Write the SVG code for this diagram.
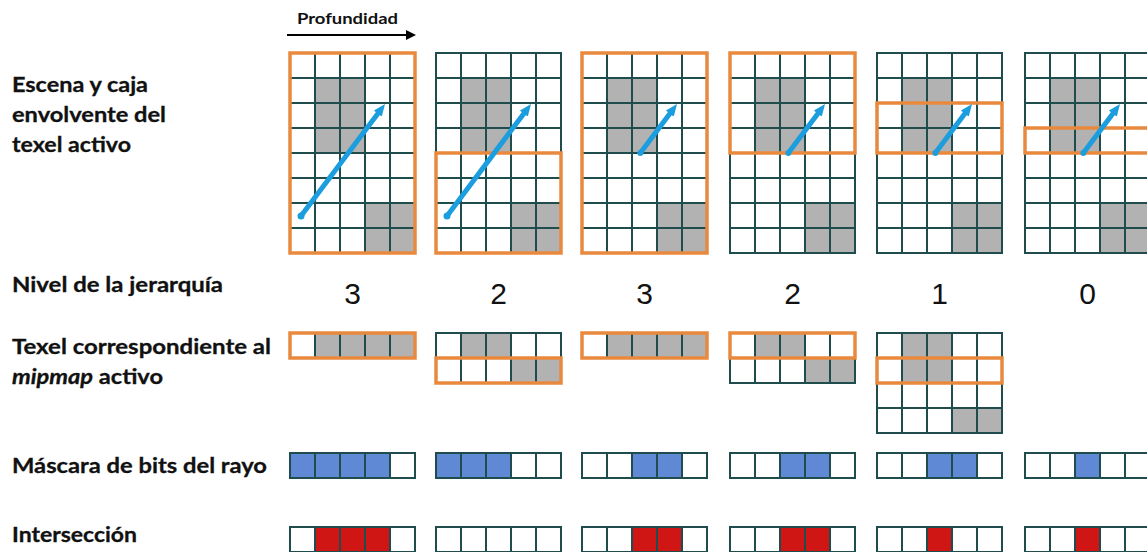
<svg xmlns="http://www.w3.org/2000/svg" xmlns:xlink="http://www.w3.org/1999/xlink" width="1147" height="552" viewBox="0 0 1147 552">
<style>
.lbl{font-family:Lato,"Liberation Sans",sans-serif;font-weight:700;font-size:21px;fill:#111;stroke:#111;stroke-width:0.3}
.num{font-family:"Liberation Sans",Arial,sans-serif;font-size:30px;fill:#111;text-anchor:middle}
.grid{fill:none;stroke:#1F4C4C;stroke-width:2;stroke-linecap:square}
.g{fill:#B2B2B2}
.b{fill:#5F89D5}
.r{fill:#D01515}
.ob{fill:none;stroke:#E8893E;stroke-width:3.5}
.ray{stroke:#1C9DDD;stroke-width:5;fill:none}
.dot{fill:#1C9DDD}
</style>
<defs>
<marker id="rh" markerUnits="userSpaceOnUse" viewBox="0 0 12 10" markerWidth="12" markerHeight="10" refX="3" refY="5" orient="auto">
<path d="M0,0 L12,5 L0,10 z" fill="#1C9DDD"/>
</marker>
<marker id="ah" markerUnits="userSpaceOnUse" viewBox="0 0 10 10" markerWidth="10" markerHeight="10" refX="2" refY="5" orient="auto">
<path d="M0,0 L10,5 L0,10 z" fill="#000"/>
</marker>
<g id="scene">
<rect x="0" y="0" width="125" height="200" fill="#fff"/>
<rect class="g" x="25" y="25" width="50" height="75"/>
<rect class="g" x="75" y="150" width="50" height="50"/>
<path class="grid" d="M0,0V200M25,0V200M50,0V200M75,0V200M100,0V200M125,0V200M0,0H125M0,25H125M0,50H125M0,75H125M0,100H125M0,125H125M0,150H125M0,175H125M0,200H125"/>
</g>
<path id="strip" class="grid" d="M0,0H125V25H0ZM25,0V25M50,0V25M75,0V25M100,0V25"/>
</defs>

<g id="connectors">
<line x1="287" y1="35" x2="408" y2="35" stroke="#000" stroke-width="2.2" marker-end="url(#ah)"/>
</g>
<text id="profundidad" x="297" y="24" style="font-family:Lato,'Liberation Sans',sans-serif;font-weight:700;font-size:15px;fill:#111" textLength="101" lengthAdjust="spacingAndGlyphs">Profundidad</text>

<g id="labels">
<text class="lbl" x="12" y="92" textLength="136" lengthAdjust="spacingAndGlyphs">Escena y caja</text>
<text class="lbl" x="12" y="122" textLength="154" lengthAdjust="spacingAndGlyphs">envolvente del</text>
<text class="lbl" x="12" y="152" textLength="119" lengthAdjust="spacingAndGlyphs">texel activo</text>
<text class="lbl" x="12" y="292" textLength="211" lengthAdjust="spacingAndGlyphs">Nivel de la jerarquía</text>
<text class="lbl" x="12" y="354" textLength="259" lengthAdjust="spacingAndGlyphs">Texel correspondiente al</text>
<text class="lbl" x="12" y="384" textLength="151" lengthAdjust="spacingAndGlyphs"><tspan font-style="italic">mipmap</tspan> activo</text>
<text class="lbl" x="12" y="473" textLength="255" lengthAdjust="spacingAndGlyphs">Máscara de bits del rayo</text>
<text class="lbl" x="12" y="542" textLength="125" lengthAdjust="spacingAndGlyphs">Intersección</text>
</g>

<g id="scene1">
<use xlink:href="#scene" href="#scene" x="290" y="53"/>
<rect class="ob" x="290" y="53" width="125" height="200"/>
<line class="ray" x1="301" y1="216" x2="379.6" y2="111.2" marker-end="url(#rh)"/>
<circle class="dot" cx="301" cy="216" r="3.5"/>
</g>
<g id="scene2">
<use xlink:href="#scene" href="#scene" x="436" y="53"/>
<rect class="ob" x="436" y="153" width="125" height="100"/>
<line class="ray" x1="447" y1="216" x2="525.6" y2="111.2" marker-end="url(#rh)"/>
<circle class="dot" cx="447" cy="216" r="3.5"/>
</g>
<g id="scene3">
<use xlink:href="#scene" href="#scene" x="582" y="53"/>
<rect class="ob" x="582" y="53" width="125" height="200"/>
<line class="ray" x1="640.3" y1="153" x2="671.6" y2="111.2" marker-end="url(#rh)"/>
<circle class="dot" cx="640.3" cy="153" r="3"/>
</g>
<g id="scene4">
<use xlink:href="#scene" href="#scene" x="730" y="53"/>
<rect class="ob" x="730" y="53" width="125" height="100"/>
<line class="ray" x1="788.3" y1="153" x2="819.6" y2="111.2" marker-end="url(#rh)"/>
<circle class="dot" cx="788.3" cy="153" r="3"/>
</g>
<g id="scene5">
<use xlink:href="#scene" href="#scene" x="877" y="53"/>
<rect class="ob" x="877" y="103" width="125" height="50"/>
<line class="ray" x1="935.3" y1="153" x2="966.6" y2="111.2" marker-end="url(#rh)"/>
<circle class="dot" cx="935.3" cy="153" r="3"/>
</g>
<g id="scene6">
<use xlink:href="#scene" href="#scene" x="1025" y="53"/>
<rect class="ob" x="1025" y="128" width="125" height="25"/>
<line class="ray" x1="1083.3" y1="153" x2="1114.6" y2="111.2" marker-end="url(#rh)"/>
<circle class="dot" cx="1083.3" cy="153" r="3"/>
</g>

<g id="levels">
<text class="num" x="352.5" y="304">3</text>
<text class="num" x="498.5" y="304">2</text>
<text class="num" x="644.5" y="304">3</text>
<text class="num" x="792.5" y="304">2</text>
<text class="num" x="939.5" y="304">1</text>
<text class="num" x="1087.5" y="304">0</text>
</g>

<g id="mip1">
<rect class="g" x="315" y="333" width="100" height="25"/>
<use href="#strip" xlink:href="#strip" x="290" y="333"/>
<rect class="ob" x="290" y="333" width="125" height="25"/>
</g>
<g id="mip2">
<rect class="g" x="461" y="333" width="50" height="25"/>
<rect class="g" x="511" y="358" width="50" height="25"/>
<use href="#strip" xlink:href="#strip" x="436" y="333"/>
<use href="#strip" xlink:href="#strip" x="436" y="358"/>
<rect class="ob" x="436" y="358" width="125" height="25"/>
</g>
<g id="mip3">
<rect class="g" x="607" y="333" width="100" height="25"/>
<use href="#strip" xlink:href="#strip" x="582" y="333"/>
<rect class="ob" x="582" y="333" width="125" height="25"/>
</g>
<g id="mip4">
<rect class="g" x="755" y="333" width="50" height="25"/>
<rect class="g" x="805" y="358" width="50" height="25"/>
<use href="#strip" xlink:href="#strip" x="730" y="333"/>
<use href="#strip" xlink:href="#strip" x="730" y="358"/>
<rect class="ob" x="730" y="333" width="125" height="25"/>
</g>
<g id="mip5">
<rect class="g" x="902" y="333" width="50" height="50"/>
<rect class="g" x="952" y="408" width="50" height="25"/>
<use href="#strip" xlink:href="#strip" x="877" y="333"/>
<use href="#strip" xlink:href="#strip" x="877" y="358"/>
<use href="#strip" xlink:href="#strip" x="877" y="383"/>
<use href="#strip" xlink:href="#strip" x="877" y="408"/>
<rect class="ob" x="877" y="358" width="125" height="25"/>
</g>

<g id="mask1"><rect class="b" x="290" y="453" width="100" height="25"/><use href="#strip" xlink:href="#strip" x="290" y="453"/></g>
<g id="mask2"><rect class="b" x="436" y="453" width="75" height="25"/><use href="#strip" xlink:href="#strip" x="436" y="453"/></g>
<g id="mask3"><rect class="b" x="632" y="453" width="50" height="25"/><use href="#strip" xlink:href="#strip" x="582" y="453"/></g>
<g id="mask4"><rect class="b" x="780" y="453" width="50" height="25"/><use href="#strip" xlink:href="#strip" x="730" y="453"/></g>
<g id="mask5"><rect class="b" x="927" y="453" width="50" height="25"/><use href="#strip" xlink:href="#strip" x="877" y="453"/></g>
<g id="mask6"><rect class="b" x="1075" y="453" width="25" height="25"/><use href="#strip" xlink:href="#strip" x="1025" y="453"/></g>

<g id="inter1"><rect class="r" x="315" y="527" width="75" height="25"/><use href="#strip" xlink:href="#strip" x="290" y="527"/></g>
<g id="inter2"><use href="#strip" xlink:href="#strip" x="436" y="527"/></g>
<g id="inter3"><rect class="r" x="632" y="527" width="50" height="25"/><use href="#strip" xlink:href="#strip" x="582" y="527"/></g>
<g id="inter4"><rect class="r" x="780" y="527" width="50" height="25"/><use href="#strip" xlink:href="#strip" x="730" y="527"/></g>
<g id="inter5"><rect class="r" x="927" y="527" width="25" height="25"/><use href="#strip" xlink:href="#strip" x="877" y="527"/></g>
<g id="inter6"><rect class="r" x="1075" y="527" width="25" height="25"/><use href="#strip" xlink:href="#strip" x="1025" y="527"/></g>
</svg>
